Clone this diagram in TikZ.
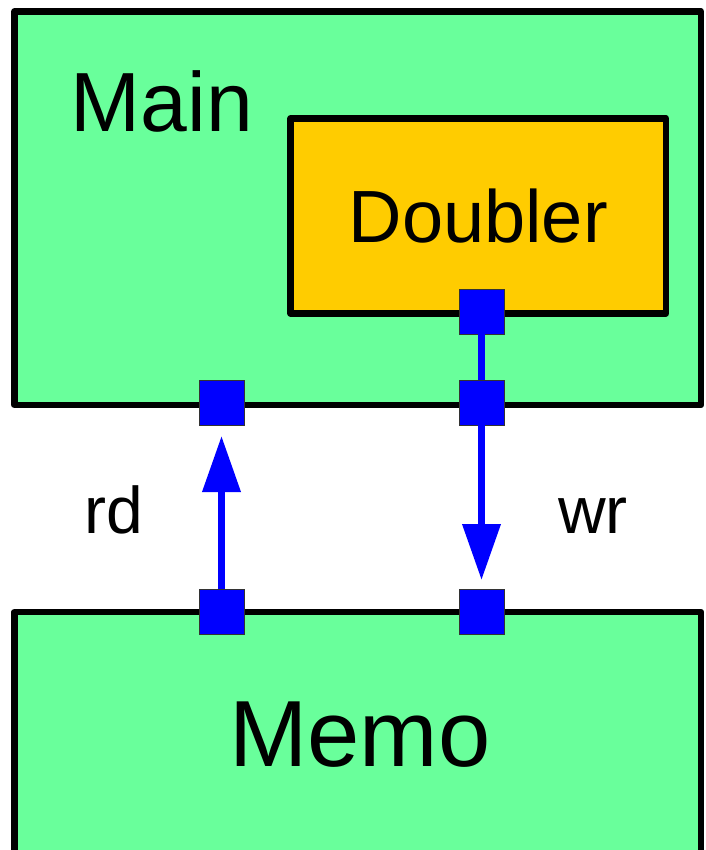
\documentclass[tikz,border=0pt]{standalone}
\usepackage{fontspec}
\setmainfont{Liberation Sans}
\usepackage{tikz}
\usetikzlibrary{arrows.meta, positioning}
\definecolor{blockgreen}{HTML}{69FF9B}
\definecolor{subyellow}{HTML}{FFCC00}
\definecolor{portblue}{HTML}{0000FF}
\tikzset{
  block/.style={draw=black, line width=6.5pt, line join=round, rectangle, inner sep=0pt, outer sep=0pt},
  port/.style={draw=black!80, line width=0.9pt, fill=portblue, rectangle, minimum size=45pt, inner sep=0pt, outer sep=0pt},
  wire/.style={portblue, line width=7pt},
  flow/.style={wire, -{Triangle[length=56pt, width=37pt]}},
  bigtext/.style={font=\fontsize{#1}{#1}\selectfont, inner sep=0pt, anchor=base}
}

\begin{document}
\begin{tikzpicture}[x=1pt, y=-1pt]
  \clip (0,0) rectangle (705,850);
  \fill[white] (0,0) rectangle (705,850);

  % ===== blocks =====
  \node[block, fill=blockgreen, minimum width=686.5pt, minimum height=393.5pt]
       (main) at (357.75,208.25) {};
  \node[block, fill=subyellow, minimum width=375.5pt, minimum height=195pt,
        font=\fontsize{74}{74}\selectfont]
       (doubler) at (478.25,216) {Doubler};
  \node[block, fill=blockgreen, minimum width=686.5pt, minimum height=280pt]
       (memo) at (357.75,752) {};

  % ===== block titles and channel names =====
  \node[bigtext=84] (maintitle) at (162,132) {Main};
  \node[bigtext=94] (memotitle) at (360,766) {Memo};
  \node[bigtext=66] (rdlabel) at (114,533) {rd};
  \node[bigtext=66] (wrlabel) at (593,533) {wr};

  % ===== ports =====
  \node[port] (doubout) at (481.5,311.5) {};
  \node[port] (mainrd)  at (221.5,402.5) {};
  \node[port] (mainwr)  at (481.5,402.5) {};
  \node[port] (memord)  at (221.5,611.5) {};
  \node[port] (memowr)  at (481.5,611.5) {};

  % ===== connections =====
  \draw[wire] (doubout.south) -- (mainwr.north);
  \draw[flow, shorten >=11pt] (memord.north) -- (mainrd.south);
  \draw[flow, shorten >=9pt] (mainwr.south) -- (memowr.north);
\end{tikzpicture}
\end{document}
